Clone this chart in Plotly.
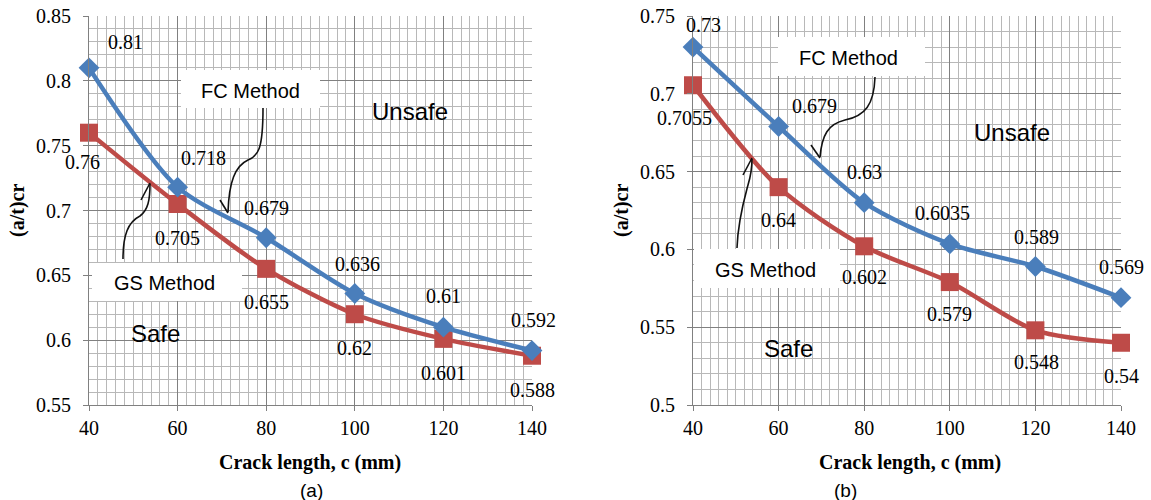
import plotly.graph_objects as go

W, H = 1151, 500

# ---------------- data ----------------
crack_length = [40, 60, 80, 100, 120, 140]
fc_a = [0.81, 0.718, 0.679, 0.636, 0.61, 0.592]
gs_a = [0.76, 0.705, 0.655, 0.62, 0.601, 0.588]
fc_b = [0.73, 0.679, 0.63, 0.6035, 0.589, 0.569]
gs_b = [0.7055, 0.64, 0.602, 0.579, 0.548, 0.54]
yticks_a = [0.55, 0.6, 0.65, 0.7, 0.75, 0.8, 0.85]
yticks_b = [0.5, 0.55, 0.6, 0.65, 0.7, 0.75]
xticks = [40, 60, 80, 100, 120, 140]

# label offsets in pixels (dx right, dy down)
fc_a_off = [(36, -26), (26, -29), (0, -30), (3, -29), (0, -31), (1, -31)]
gs_a_off = [(-7, 29), (0, 34), (0, 33), (0, 34), (0, 34), (0, 34)]
fc_b_off = [(10, -22), (36, -20), (0, -31), (-7, -31), (1, -30), (0, -31)]
gs_b_off = [(-9, 33), (0, 33), (0, 31), (0, 32), (1, 32), (0, 33)]

BLUE = "#4A7EBB"
RED = "#BE4B48"
SERIF = "Liberation Serif"
SANS = "Liberation Sans"
MAJOR = "#808080"
MINOR = "#B8B8B8"


def px(x):
    return x / W


def py(y):
    return 1 - y / H


fig = go.Figure()

for xa, ya, fc, gs in [("x", "y", fc_a, gs_a), ("x2", "y2", fc_b, gs_b)]:
    fig.add_trace(go.Scatter(
        x=crack_length, y=gs, xaxis=xa, yaxis=ya, mode="lines+markers",
        line=dict(color=RED, width=4.5, shape="spline", smoothing=0.8),
        marker=dict(symbol="square", size=18, color=RED), showlegend=False,
        cliponaxis=False))
    fig.add_trace(go.Scatter(
        x=crack_length, y=fc, xaxis=xa, yaxis=ya, mode="lines+markers",
        line=dict(color=BLUE, width=4.5, shape="spline", smoothing=0.8),
        marker=dict(symbol="diamond", size=16, color=BLUE), showlegend=False,
        cliponaxis=False))

annotations = []


def add_labels(vals, offs, xr, yr):
    for c, v, (dx, dy) in zip(crack_length, vals, offs):
        annotations.append(dict(
            x=c, y=v, xref=xr, yref=yr, text=str(v), showarrow=False,
            xshift=dx, yshift=-dy, font=dict(family=SERIF, size=20, color="#000")))


add_labels(fc_a, fc_a_off, "x", "y")
add_labels(gs_a, gs_a_off, "x", "y")
add_labels(fc_b, fc_b_off, "x2", "y2")
add_labels(gs_b, gs_b_off, "x2", "y2")


def ptext(x, y, text, size=20, family=SANS, bold=False, angle=0):
    annotations.append(dict(
        x=px(x), y=py(y), xref="paper", yref="paper", text=("<b>%s</b>" % text) if bold else text,
        showarrow=False, textangle=angle, xanchor="center", yanchor="middle",
        font=dict(family=family, size=size, color="#000")))


shapes = []


def box(x0, y0, x1, y1):
    shapes.append(dict(type="rect", xref="paper", yref="paper",
                       x0=px(x0), x1=px(x1), y0=py(y1), y1=py(y0),
                       fillcolor="white", line=dict(width=0), layer="above"))


def path(points_cmd):
    s = ""
    for cmd, pts in points_cmd:
        s += cmd + " " + " ".join("%.5f,%.5f" % (px(x), py(y)) for x, y in pts) + " "
    shapes.append(dict(type="path", xref="paper", yref="paper", path=s.strip(),
                       line=dict(color="#111", width=1.6), layer="above"))


# boxes + text
box(181, 70, 320, 108)
ptext(250, 91, "FC Method")
box(92, 263, 242, 301)
ptext(165, 283, "GS Method")
box(778, 37, 925, 76)
ptext(848, 58, "FC Method")
box(694, 249, 840, 288)
ptext(765, 270, "GS Method")

ptext(410, 112, "Unsafe", size=24)
ptext(155, 333, "Safe", size=24)
ptext(1012, 132, "Unsafe", size=24)
ptext(788, 348, "Safe", size=24)

# curved arrows
path([("M", [(263, 108)]), ("C", [(263, 150), (258, 156), (248, 160)]),
      ("C", [(235, 166), (229, 182), (228, 212)])])
path([("M", [(220, 200)]), ("L", [(228, 213), (237, 200)])])
path([("M", [(123, 259)]), ("C", [(123, 235), (128, 222), (140, 216)]),
      ("C", [(148, 210), (150, 200), (150, 184)])])
path([("M", [(141, 200)]), ("L", [(150, 183), (158, 200)])])
path([("M", [(875, 77)]), ("C", [(874, 105), (865, 116), (845, 120)]),
      ("C", [(828, 124), (822, 135), (820, 157)])])
path([("M", [(811, 145)]), ("L", [(820, 158), (829, 143)])])
path([("M", [(737, 248)]), ("C", [(738, 220), (744, 200), (748, 185)]),
      ("C", [(751, 175), (752, 168), (752, 159)])])
path([("M", [(743, 175)]), ("L", [(752, 158), (760, 175)])])

# axis titles
ptext(310, 462, "Crack length, c (mm)", size=20, family=SERIF, bold=True)
ptext(910, 462, "Crack length, c (mm)", size=20, family=SERIF, bold=True)
ptext(18, 211, "(a/t)cr", size=20, family=SERIF, bold=True, angle=-90)
ptext(622, 211, "(a/t)cr", size=20, family=SERIF, bold=True, angle=-90)
ptext(311, 490, "(a)", size=19)
ptext(845, 490, "(b)", size=19)


def xaxis(domain, anchor):
    return dict(domain=domain, anchor=anchor, range=[40, 140], tickvals=xticks,
                ticktext=[str(v) for v in xticks], showgrid=True, gridcolor=MAJOR, gridwidth=1,
                minor=dict(dtick=2, tick0=40, showgrid=True, gridcolor=MINOR, gridwidth=1),
                showline=True, linecolor=MAJOR, linewidth=1, ticks="outside", ticklen=5,
                tickcolor=MAJOR, zeroline=False, automargin=False,
                tickfont=dict(family=SERIF, size=20, color="#000"))


def yaxis(domain, anchor, rng, tv):
    return dict(domain=domain, anchor=anchor, range=rng, tickvals=tv,
                ticktext=[("%g" % v) for v in tv], showgrid=True, gridcolor=MAJOR, gridwidth=1,
                minor=dict(dtick=0.01, tick0=0.5, showgrid=True, gridcolor=MINOR, gridwidth=1),
                showline=True, linecolor=MAJOR, linewidth=1, ticks="outside", ticklen=5,
                tickcolor=MAJOR, zeroline=False, ticklabelstandoff=8, automargin=False,
                tickfont=dict(family=SERIF, size=20, color="#000"))


ydom = [py(405), py(16)]
fig.update_layout(
    width=W, height=H, margin=dict(l=0, r=0, t=0, b=0, autoexpand=False),
    paper_bgcolor="white", plot_bgcolor="white",
    xaxis=xaxis([px(89), px(532)], "y"),
    yaxis=yaxis(ydom, "x", [0.55, 0.85], yticks_a),
    xaxis2=xaxis([px(693), px(1121)], "y2"),
    yaxis2=yaxis(ydom, "x2", [0.5, 0.75], yticks_b),
    annotations=annotations, shapes=shapes,
)

fig.write_html("out.html")
